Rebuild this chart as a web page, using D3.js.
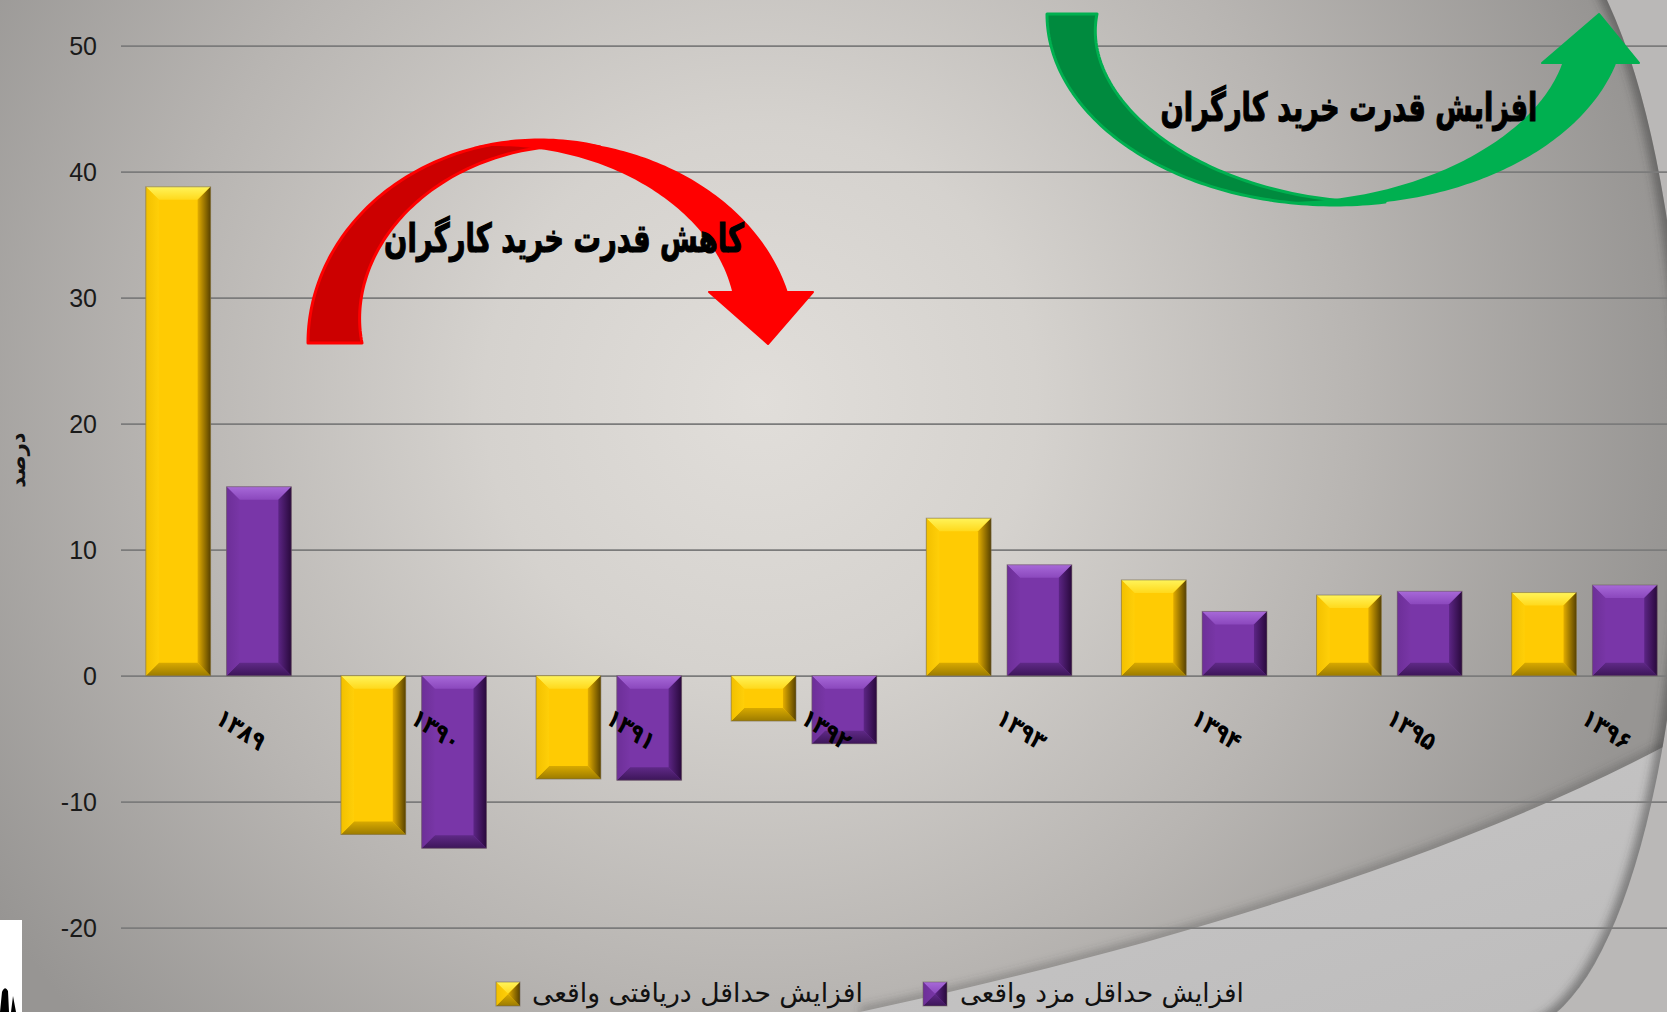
<!DOCTYPE html>
<html><head><meta charset="utf-8">
<script src="https://cdn.jsdelivr.net/npm/d3@7"></script>
<style>html,body{margin:0;padding:0;overflow:hidden;background:#aaa}</style>
</head><body>
<script>
// ---------- data ----------
const years = ["۱۳۸۹","۱۳۹۰","۱۳۹۱","۱۳۹۲","۱۳۹۳","۱۳۹۴","۱۳۹۵","۱۳۹۶"];
const seriesNames = ["افزایش حداقل دریافتی واقعی","افزایش حداقل مزد واقعی"];
const receivedReal = [38.8, -12.6, -8.2, -3.6, 12.5, 7.6, 6.4, 6.6];
const wageReal     = [15.0, -13.7, -8.3, -5.4, 8.8, 5.1, 6.7, 7.2];
const yTicks = [-20,-10,0,10,20,30,40,50];
const yTitle = "درصد";
const decreaseLabel = "کاهش قدرت خرید کارگران";
const increaseLabel = "افزایش قدرت خرید کارگران";

// ---------- setup ----------
const W = 1667, H = 1012;
const svg = d3.select("body").append("svg").attr("width",W).attr("height",H).style("display","block");
const defs = svg.append("defs");

const x0 = d3.scaleBand().domain(years).range([121,1682]).paddingInner(0).paddingOuter(0);
const x1 = d3.scaleBand().domain([0,1]).range([0,x0.bandwidth()]).paddingInner(0.1975).paddingOuter(0.307);
const y = d3.scaleLinear().domain([-20,50]).range([927.7,45.7]);

// ---------- background ----------
const bg = defs.append("radialGradient").attr("id","bg").attr("gradientUnits","userSpaceOnUse")
  .attr("cx",760).attr("cy",400).attr("r",920);
[[0,"#e1deda"],[0.3,"#d5d2ce"],[0.65,"#b8b5b2"],[1,"#979593"]].forEach(([o,c])=>bg.append("stop").attr("offset",o).attr("stop-color",c));
svg.append("rect").attr("width",W).attr("height",H).attr("fill","url(#bg)");

const blur = defs.append("filter").attr("id","blur").attr("x","-20%").attr("y","-20%").attr("width","140%").attr("height","140%");
blur.append("feGaussianBlur").attr("stdDeviation",4);

const lowGrad = defs.append("linearGradient").attr("id","lowg").attr("x1",0).attr("y1",0).attr("x2",1).attr("y2",1);
lowGrad.append("stop").attr("offset",0).attr("stop-color","#c8c7c7");
lowGrad.append("stop").attr("offset",1).attr("stop-color","#bdbcbc");
const lowCurve = "M860,1012 C1150,950 1450,860 1667,745";
svg.append("path").attr("d",lowCurve).attr("fill","none").attr("stroke","rgba(70,70,70,0.35)")
  .attr("stroke-width",10).attr("filter","url(#blur)");
svg.append("path").attr("d",lowCurve+" L1667,1012 Z").attr("fill","url(#lowg)");

// right-side ellipse edge
const ell = {cx:1514, cy:470, rx:171, ry:560};
const rightHalf = d3.range(-90, 90.01, 2).map(a=>{
  const t=a*Math.PI/180; return [ell.cx+ell.rx*Math.cos(t), ell.cy+ell.ry*Math.sin(t)];
});
const edgeLine = d3.line()(rightHalf);
svg.append("path").attr("d", edgeLine + `L${W+40},${ell.cy+ell.ry} L${W+40},${ell.cy-ell.ry} Z`)
  .attr("fill","#bab8b7");
defs.append("clipPath").attr("id","ellClip").append("ellipse")
  .attr("cx",ell.cx).attr("cy",ell.cy).attr("rx",ell.rx).attr("ry",ell.ry);
svg.append("g").attr("clip-path","url(#ellClip)").append("path").attr("d",edgeLine)
  .attr("fill","none").attr("stroke","rgba(60,60,60,0.5)").attr("stroke-width",14).attr("filter","url(#blur)");

// ---------- y axis & grid ----------
const yAxis = svg.append("g").attr("transform","translate(121,0)")
  .call(d3.axisLeft(y).tickValues(yTicks).tickSize(-(W-121)).tickPadding(24).tickFormat(d=>String(d)));
yAxis.select(".domain").remove();
yAxis.selectAll(".tick line").attr("stroke","#7b7b7b").attr("stroke-width",1.8);
yAxis.selectAll(".tick text").attr("fill","#1a1a1a").attr("font-family","Liberation Sans, Arial, sans-serif")
  .attr("font-size",25).attr("dy","0.35em");

// ---------- bevel gradients ----------
const palettes = [
  {id:"yl", face:"#ffcb03",
   top:["#fff45a","#ffd91c"], left:["#f2c000","#ffcf08"], right:["#e3ad00","#574100"], bottom:["#d8a900","#9c7b00"]},
  {id:"pu", face:"#7936a8",
   top:["#a769d8","#8b48bd"], left:["#6d2f98","#7836a6"], right:["#5c2585","#29093c"], bottom:["#5f2987","#3d1659"]}
];
function lg(id, x2, y2, c0, c1){
  const g = defs.append("linearGradient").attr("id",id).attr("x1",0).attr("y1",0).attr("x2",x2).attr("y2",y2);
  g.append("stop").attr("offset",0).attr("stop-color",c0);
  g.append("stop").attr("offset",1).attr("stop-color",c1);
}
palettes.forEach(p=>{
  lg(p.id+"t",0,1,p.top[0],p.top[1]);
  lg(p.id+"l",1,0,p.left[0],p.left[1]);
  lg(p.id+"r",1,0,p.right[0],p.right[1]);
  lg(p.id+"b",0,1,p.bottom[0],p.bottom[1]);
});
function bevel(g, x, w, ya, yb, p, bmax){
  const top = Math.min(ya,yb), bot = Math.max(ya,yb), h = bot-top;
  const b = Math.min(bmax, h/2, w/2);
  g.append("rect").attr("x",x).attr("y",top).attr("width",w).attr("height",h).attr("fill",p.face);
  const poly = (pts, fill)=>g.append("polygon").attr("points",pts.map(q=>q.join(",")).join(" ")).attr("fill",fill);
  poly([[x,top],[x+w,top],[x+w-b,top+b],[x+b,top+b]], `url(#${p.id}t)`);
  poly([[x,bot],[x+w,bot],[x+w-b,bot-b],[x+b,bot-b]], `url(#${p.id}b)`);
  poly([[x,top],[x+b,top+b],[x+b,bot-b],[x,bot]], `url(#${p.id}l)`);
  poly([[x+w,top],[x+w-b,top+b],[x+w-b,bot-b],[x+w,bot]], `url(#${p.id}r)`);
  g.append("rect").attr("x",x).attr("y",top).attr("width",w).attr("height",h)
    .attr("fill","none").attr("stroke","rgba(110,100,90,0.55)").attr("stroke-width",1);
}

// ---------- bars ----------
const series = [receivedReal, wageReal];
const barsG = svg.append("g");
years.forEach((yr,i)=>{
  series.forEach((vals,s)=>{
    const g = barsG.append("g");
    bevel(g, x0(yr)+x1(s), x1.bandwidth(), y(0), y(vals[i]), palettes[s], 13);
  });
});

// ---------- x labels ----------
const xAxis = svg.append("g").attr("transform",`translate(0,${y(0)})`)
  .call(d3.axisBottom(x0).tickSize(0));
xAxis.select(".domain").remove();
xAxis.selectAll(".tick text")
  .attr("x",0).attr("y",0).attr("dy","0.35em")
  .attr("transform","translate(0,39) rotate(33) scale(1,1.15)")
  .attr("text-anchor","start")
  .attr("fill","#000").attr("font-family","DejaVu Sans, sans-serif").attr("font-weight","bold").attr("font-size",22);

// ---------- y title ----------
svg.append("text").attr("transform","translate(25,460) rotate(-90)").attr("text-anchor","middle")
  .attr("font-family","DejaVu Sans, sans-serif").attr("font-weight","bold").attr("font-size",21).attr("fill","#111")
  .text(yTitle);

// ---------- arrows ----------
function bandPath(cx, cy, rx, ry, t0, t1, w0, w1, sy){
  const n = 90, outer=[], inner=[];
  for(let k=0;k<=n;k++){
    const t = (t0+(t1-t0)*k/n)*Math.PI/180;
    const w = w0+(w1-w0)*k/n;
    outer.push([cx+rx*Math.cos(t), cy+sy*ry*Math.sin(t)]);
    inner.push([cx+(rx-w)*Math.cos(t), cy+sy*(ry-w)*Math.sin(t)]);
  }
  return d3.line()(outer.concat(inner.reverse()))+"Z";
}
const arrows = svg.append("g");
// red (decrease)
arrows.append("path").attr("d",bandPath(540,343,232,203,180,75,54,0,-1))
  .attr("fill","#cc0000").attr("stroke","#ff0000").attr("stroke-width",3).attr("stroke-linejoin","round");
arrows.append("path").attr("d",bandPath(540,343,256,203,105,14.5,0,55,-1)).attr("fill","#ff0000");
arrows.append("polygon").attr("points","709,292 813,292 768,344").attr("fill","#ff0000")
  .attr("stroke","#ff0000").attr("stroke-width",2).attr("stroke-linejoin","round");
// green (increase)
arrows.append("path").attr("d",bandPath(1335,14,288,191,180,80,50,0,1))
  .attr("fill","#008a3e").attr("stroke","#00b050").attr("stroke-width",3).attr("stroke-linejoin","round");
arrows.append("path").attr("d",bandPath(1335,14,291,191,100,14.9,0,52,1)).attr("fill","#00b050");
arrows.append("polygon").attr("points","1542,63 1639,63 1599,14").attr("fill","#00b050")
  .attr("stroke","#00b050").attr("stroke-width",2).attr("stroke-linejoin","round");

function fit(sel, target){
  const w = sel.node().getComputedTextLength();
  const fs = parseFloat(sel.attr("font-size"));
  if (w>0) sel.attr("font-size", fs*target/w);
}
function bigLabel(cx, base, txt, width){
  const g = svg.append("g").attr("transform",`translate(${cx},${base}) scale(1,1.45)`);
  const t = g.append("text").attr("x",0).attr("y",0).attr("text-anchor","middle")
    .attr("font-family","DejaVu Sans, sans-serif").attr("font-weight","bold").attr("font-size",30)
    .attr("fill","#000").attr("stroke","#000").attr("stroke-width",0.8).text(txt);
  fit(t, width);
}
bigLabel(564, 252, decreaseLabel, 360);
bigLabel(1349, 121, increaseLabel, 377);

// ---------- legend ----------
const legend = svg.append("g");
const legItems = [
  {mx:496, tx:532, tw:331, s:0},
  {mx:923, tx:960, tw:284, s:1}
];
legItems.forEach(it=>{
  const g = legend.append("g");
  bevel(g, it.mx, 24, 982, 1006, palettes[it.s], 12);
  const t = legend.append("text").attr("x",it.tx).attr("y",1002).attr("text-anchor","start")
    .attr("font-family","DejaVu Sans, sans-serif").attr("font-size",26).attr("fill","#111")
    .text(seriesNames[it.s]);
  fit(t, it.tw);
});

// ---------- cut-off logo at bottom-left ----------
svg.append("rect").attr("x",0).attr("y",920).attr("width",22).attr("height",92).attr("fill","#fff");
svg.append("path").attr("d","M0,1012 L2,992 Q5,985 8,991 L9,1012 Z M11,1012 L13,996 L16,1012 Z").attr("fill","#000");
</script>
</body></html>
